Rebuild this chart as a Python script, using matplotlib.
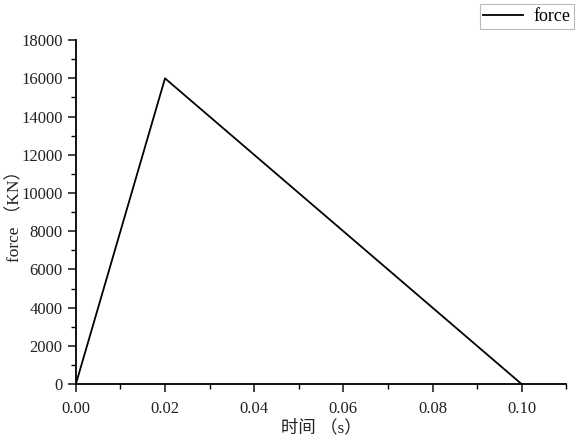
import matplotlib
matplotlib.use("Agg")
import matplotlib.pyplot as plt
from matplotlib.ticker import MultipleLocator, FormatStrFormatter

time_s = [0.0, 0.02, 0.10]
force_kn = [0, 16000, 0]

plt.rcParams['font.family'] = ['Liberation Serif', 'Noto Sans CJK SC', 'DejaVu Sans']

fig = plt.figure(figsize=(5.88, 4.41), dpi=100)
ax = fig.add_axes([0.129, 0.129, 0.834, 0.78])
ax.plot(time_s, force_kn, color='black', lw=1.3, label='force')
ax.set_xlim(0, 0.11)
ax.set_ylim(0, 18000)
ax.spines['top'].set_visible(False)
ax.spines['right'].set_visible(False)
for s in ['left', 'bottom']:
    ax.spines[s].set_linewidth(1.3)
ax.xaxis.set_major_locator(MultipleLocator(0.02))
ax.xaxis.set_minor_locator(MultipleLocator(0.01))
ax.yaxis.set_major_locator(MultipleLocator(2000))
ax.yaxis.set_minor_locator(MultipleLocator(1000))
ax.xaxis.set_major_formatter(FormatStrFormatter('%.2f'))
ax.tick_params(which='major', direction='out', length=6, width=1.2, labelsize=12, colors='#222222')
ax.tick_params(which='minor', direction='out', length=3.5, width=1.0)
ax.tick_params(axis='x', pad=6)
ax.set_xlabel('时间 （s）', fontsize=12.5, color='#222222', labelpad=2)
ax.set_ylabel('force （KN）', fontsize=12.5, color='#222222')
ax.yaxis.set_label_coords(-0.108, 0.5)
leg = ax.legend(loc='upper right', bbox_to_anchor=(1.035, 1.13), fontsize=13,
                frameon=True, fancybox=False, edgecolor='#aaaaaa',
                handlelength=2.2, borderpad=0.2, handletextpad=0.6)
leg.get_frame().set_linewidth(0.8)
fig.savefig('out.png', dpi=100)
